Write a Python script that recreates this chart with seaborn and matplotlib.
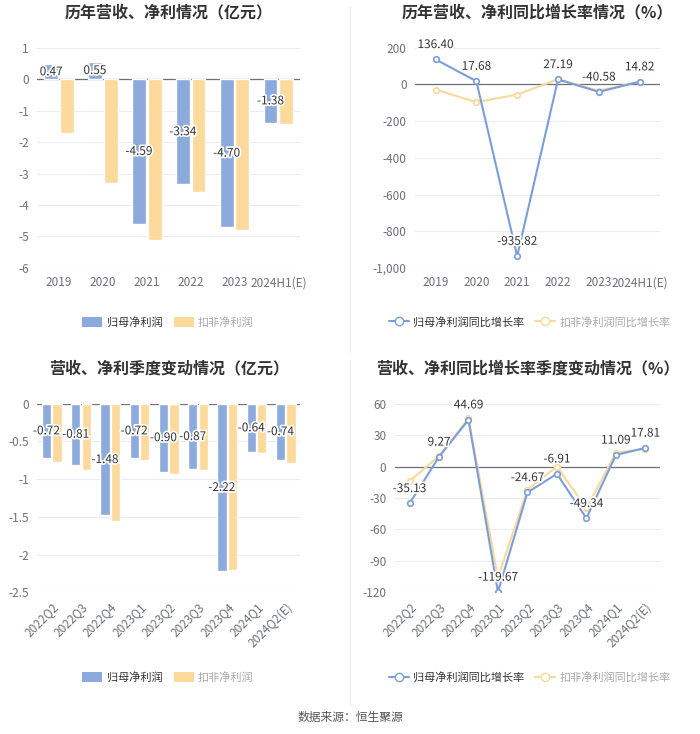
import matplotlib
matplotlib.use('Agg')
import matplotlib.pyplot as plt
import matplotlib.ticker as mticker
import matplotlib.patheffects as pe
from matplotlib.lines import Line2D
from matplotlib.patches import Patch
import seaborn as sns
import pandas as pd

sns.set_style('white')
plt.rcParams['font.family'] = ['Noto Sans CJK SC', 'DejaVu Sans']
plt.rcParams['axes.unicode_minus'] = False

# Data
years = ['2019', '2020', '2021', '2022', '2023', '2024H1(E)']
net_profit = [0.47, 0.55, -4.59, -3.34, -4.70, -1.38]
deducted_profit = [-1.70, -3.30, -5.10, -3.58, -4.80, -1.43]

net_growth = [136.40, 17.68, -935.82, 27.19, -40.58, 14.82]
deducted_growth = [-28, -97, -55, 28, -35, 15]

quarters = ['2022Q2', '2022Q3', '2022Q4', '2023Q1', '2023Q2', '2023Q3', '2023Q4', '2024Q1', '2024Q2(E)']
q_net_profit = [-0.72, -0.81, -1.48, -0.72, -0.90, -0.87, -2.22, -0.64, -0.74]
q_deducted_profit = [-0.77, -0.88, -1.56, -0.75, -0.93, -0.88, -2.21, -0.65, -0.78]

q_net_growth = [-35.13, 9.27, 44.69, -119.67, -24.67, -6.91, -49.34, 11.09, 17.81]
q_deducted_growth = [-14, 10, 46, -106, -22, 0, -40, 13, 17]

s1, s2 = '归母净利润', '扣非净利润'
g1, g2 = '归母净利润同比增长率', '扣非净利润同比增长率'

BLUE = '#8CAADB'
YELLOW = '#FDD99B'
LBLUE = '#7C9ED8'
LYELLOW = '#F9D89C'
GRID = '#E9ECF1'
TICK = '#6E7079'
halo = [pe.withStroke(linewidth=2.5, foreground='white')]

fig = plt.figure(figsize=(7, 7.34), dpi=100)


def style_axes(ax, ylim, ticks, fmt=None, rotate=False):
    ax.set_ylim(*ylim)
    ax.set_yticks(ticks)
    if fmt:
        ax.yaxis.set_major_formatter(fmt)
    for s in ax.spines.values():
        s.set_visible(False)
    ax.grid(axis='y', color=GRID, linewidth=0.8)
    ax.grid(axis='x', visible=False)
    ax.set_axisbelow(True)
    ax.axhline(0, color='#6E7079', linewidth=0.9, zorder=1)
    ax.tick_params(axis='both', length=0, labelsize=8.5, labelcolor=TICK, pad=6)
    ax.set_xlabel('')
    ax.set_ylabel('')
    if rotate:
        for lab in ax.get_xticklabels():
            lab.set_rotation(45)
            lab.set_ha('right')
            lab.set_rotation_mode('anchor')


def bar_panel(rect, cats, a, b, title, ylim, ticks, rotate=False):
    ax = fig.add_axes(rect)
    df = pd.DataFrame({'cat': cats * 2, 'val': a + b,
                       'series': [s1] * len(cats) + [s2] * len(cats)})
    sns.barplot(data=df, x='cat', y='val', hue='series', palette=[BLUE, YELLOW],
                saturation=1, width=0.72, gap=0.12, ax=ax, legend=False, zorder=2)
    for bar, v in zip(ax.containers[0], a):
        ax.text(bar.get_x() + bar.get_width() / 2, v / 2, f'{v:.2f}',
                ha='center', va='center', fontsize=8.5, color='#333333', zorder=5,
                path_effects=halo)
    style_axes(ax, ylim, ticks, rotate=rotate)
    ax.set_xlim(-0.5, len(cats) - 0.5)
    ax.set_title(title, fontsize=11.5, fontweight='bold', color='#333333', pad=22)
    handles = [Patch(facecolor=BLUE, edgecolor='none', label=s1),
               Patch(facecolor=YELLOW, edgecolor='none', label=s2)]
    return ax, handles


def line_panel(rect, cats, a, b, title, ylim, ticks, fmt=None, rotate=False):
    ax = fig.add_axes(rect)
    df = pd.DataFrame({'cat': cats, 'a': a, 'b': b})
    sns.lineplot(data=df, x='cat', y='b', sort=False, color=LYELLOW, marker='o',
                 markersize=4, markerfacecolor='white', markeredgecolor=LYELLOW,
                 markeredgewidth=1.2, linewidth=1.5, ax=ax, zorder=3)
    sns.lineplot(data=df, x='cat', y='a', sort=False, color=LBLUE, marker='o',
                 markersize=4, markerfacecolor='white', markeredgecolor=LBLUE,
                 markeredgewidth=1.2, linewidth=1.5, ax=ax, zorder=4)
    for i, v in enumerate(a):
        ax.annotate(f'{v:.2f}', (i, v), xytext=(0, 6), textcoords='offset points',
                    ha='center', va='bottom', fontsize=8.5, color='#333333', zorder=5,
                    path_effects=halo)
    style_axes(ax, ylim, ticks, fmt=fmt, rotate=rotate)
    ax.set_xlim(-0.5, len(cats) - 0.5)
    ax.set_title(title, fontsize=11.5, fontweight='bold', color='#333333', pad=22)
    handles = [Line2D([0], [0], color=LBLUE, marker='o', markerfacecolor='white',
                      markersize=6, linewidth=1.5, label=g1),
               Line2D([0], [0], color=LYELLOW, marker='o', markerfacecolor='white',
                      markersize=6, linewidth=1.5, label=g2)]
    return ax, handles


ax1, h1 = bar_panel([0.053, 0.635, 0.376, 0.30], years, net_profit, deducted_profit,
                    '历年营收、净利情况（亿元）', (-6, 1), list(range(-6, 2)))
ax2, h2 = line_panel([0.593, 0.635, 0.35, 0.30], years, net_growth, deducted_growth,
                     '历年营收、净利同比增长率情况（%）', (-1000, 200),
                     list(range(-1000, 201, 200)),
                     fmt=mticker.FuncFormatter(lambda x, p: f'{int(x):,}'))
ax3, h3 = bar_panel([0.053, 0.193, 0.376, 0.257], quarters, q_net_profit, q_deducted_profit,
                    '营收、净利季度变动情况（亿元）', (-2.5, 0),
                    [-2.5, -2, -1.5, -1, -0.5, 0], rotate=True)
ax3.yaxis.set_major_formatter(mticker.FuncFormatter(lambda x, p: f'{x:g}'))
ax4, h4 = line_panel([0.564, 0.193, 0.379, 0.257], quarters, q_net_growth, q_deducted_growth,
                     '营收、净利同比增长率季度变动情况（%）', (-120, 60),
                     list(range(-120, 61, 30)), rotate=True)

# legends
for h, x, y in [(h1, 0.24, 0.561), (h2, 0.757, 0.561), (h3, 0.24, 0.077), (h4, 0.757, 0.077)]:
    leg = fig.legend(handles=h, loc='center', bbox_to_anchor=(x, y), ncol=2, frameon=False,
                     fontsize=8, handlelength=1.8, handleheight=1.0,
                     columnspacing=1.0, handletextpad=0.4)
    for t in leg.get_texts():
        t.set_color('#333333')
    leg.get_texts()[1].set_color('#AAAAAA')

# divider
fig.add_artist(Line2D([0.5, 0.5], [0.52, 0.99], color='#F0F0F0', linewidth=1))
fig.add_artist(Line2D([0.5, 0.5], [0.04, 0.51], color='#F0F0F0', linewidth=1))

fig.text(0.5, 0.023, '数据来源：恒生聚源', ha='center', va='center', fontsize=8.5, color='#555555')

fig.savefig('out.png', dpi=100, facecolor='white')
